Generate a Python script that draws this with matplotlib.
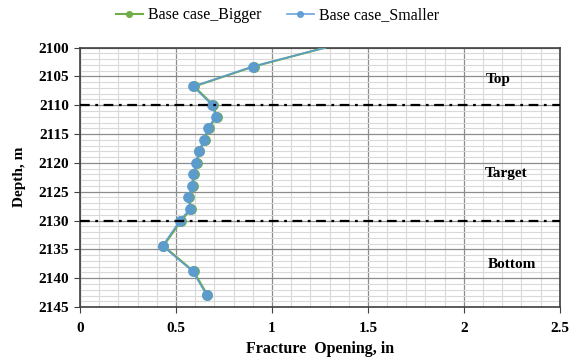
import matplotlib
matplotlib.use("Agg")
import matplotlib.pyplot as plt
from matplotlib.ticker import MultipleLocator

plt.rcParams['font.family'] = ['Liberation Serif', 'DejaVu Serif']
plt.rcParams['lines.scale_dashes'] = False

depth = [2100, 2103.3, 2106.75, 2110, 2112, 2114, 2116, 2118, 2120, 2122, 2124, 2126, 2128, 2130, 2134.4, 2138.8, 2142.9]
bigger = [1.28, 0.905, 0.595, 0.695, 0.712, 0.67, 0.65, 0.622, 0.61, 0.595, 0.588, 0.57, 0.578, 0.528, 0.435, 0.592, 0.664]
smaller = [1.28, 0.899, 0.59, 0.689, 0.707, 0.665, 0.646, 0.618, 0.604, 0.59, 0.583, 0.564, 0.573, 0.521, 0.43, 0.587, 0.66]
zone_bounds = [2110, 2130]
zone_labels = ["Top", "Target", "Bottom"]
zone_label_pos = [(2.18, 2105.5), (2.22, 2121.9), (2.25, 2137.6)]
xtick_labels = ['0', '0.5', '1', '1.5', '2', '2.5']

fig = plt.figure(figsize=(5.73, 3.6), dpi=100)
ax = fig.add_axes([0.1396, 0.147, 0.8374, 0.721])

ax.set_xlim(0, 2.5)
ax.set_ylim(2145, 2100)
ax.xaxis.set_minor_locator(MultipleLocator(0.1))
ax.yaxis.set_major_locator(MultipleLocator(5))
ax.yaxis.set_minor_locator(MultipleLocator(1))
ax.grid(which='minor', color='#d9d9d9', linewidth=0.8)
ax.grid(which='major', color='#8c8c8c', linewidth=0.9)
ax.set_axisbelow(True)
ax.tick_params(which='minor', length=0)
ax.tick_params(which='major', length=4, color='#404040', direction='out')
ax.tick_params(axis='x', which='major', pad=7)
ax.tick_params(axis='y', which='major', pad=4)
for s in ax.spines.values():
    s.set_color('#404040')
    s.set_linewidth(1.2)

ax.plot(bigger, depth, color='#70AD47', linewidth=1.5, marker='o', markersize=6.8,
        markevery=list(range(1, len(depth))), label='Base case_Bigger', zorder=3)
ax.plot(smaller, depth, color='#5B9BD5', linewidth=1.2, marker='o', markersize=6.8,
        markevery=list(range(1, len(depth))), label='Base case_Smaller', zorder=4, alpha=0.9)

for b in zone_bounds:
    ax.axhline(b, color='black', linewidth=1.6, dashes=(7, 4, 2, 4), zorder=5)

for lab, (x, y) in zip(zone_labels, zone_label_pos):
    ax.text(x, y, lab, fontsize=11, fontweight='bold', ha='center', va='center')

ax.set_xticks([0, 0.5, 1, 1.5, 2, 2.5])
ax.set_xticklabels(xtick_labels, fontweight='bold', fontsize=11)
for t in ax.get_yticklabels():
    t.set_fontweight('bold')
    t.set_fontsize(11)

ax.set_xlabel('Fracture  Opening, in', fontsize=11.5, fontweight='bold', labelpad=4)
ax.set_ylabel('Depth, m', fontsize=11, fontweight='bold', labelpad=9)

leg = fig.legend(loc='center', bbox_to_anchor=(0.484, 0.957), ncol=2, frameon=False,
                 fontsize=11.5, handlelength=1.7, columnspacing=1.6, handletextpad=0.3, markerscale=0.6)

fig.savefig('out.png', dpi=100)
